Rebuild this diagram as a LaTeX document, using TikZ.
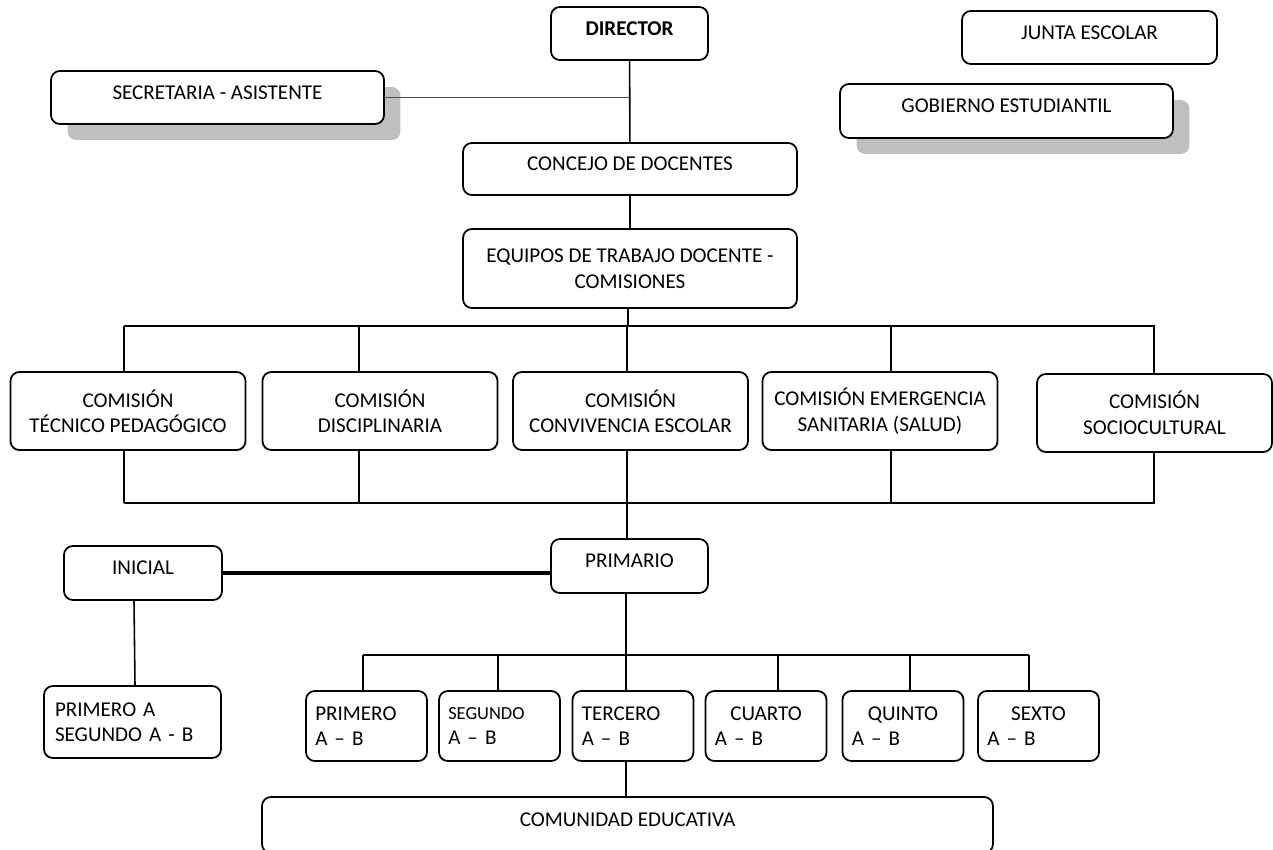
\documentclass[tikz,border=0pt]{standalone}
\usepackage{fontspec}
\setmainfont{Carlito}
\usetikzlibrary{shadows}

\begin{document}
\begin{tikzpicture}[x=0.02cm,y=-0.02cm,font=\fontsize{12}{14.5}\selectfont,
    box/.style={draw,line width=1pt,rounded corners=5pt,fill=white,inner sep=2pt},
    topline/.style={text height=9pt,text depth=7pt},
    comis/.style={box,align=center,minimum width=4.7cm,minimum height=1.56cm},
    grade/.style={box,align=left,text width=2.05cm,inner xsep=5pt,minimum width=2.42cm,minimum height=1.4cm},
    grayshadow/.style={drop shadow={shadow xshift=0.33cm,shadow yshift=-0.32cm,fill=black!25,opacity=1}},
    link/.style={line width=0.9pt}]
    \useasboundingbox (0,0) rectangle (1273,849);
    \clip (0,0) rectangle (1273,849);
    \node[box,topline,minimum width=3.14cm,minimum height=1.06cm] (dir) at (629.5,33.5) {\bfseries DIRECTOR};
    \node[box,topline,minimum width=6.66cm,minimum height=1.06cm,grayshadow] (sec) at (217.5,97.5) {SECRETARIA - ASISTENTE};
    \node[box,topline,minimum width=5.1cm,minimum height=1.06cm] (junta) at (1089.5,37.5) {JUNTA ESCOLAR};
    \node[box,topline,minimum width=6.66cm,minimum height=1.08cm,grayshadow] (gob) at (1006.5,111) {GOBIERNO ESTUDIANTIL};
    \node[box,topline,minimum width=6.68cm,minimum height=1.04cm] (conc) at (630,169) {CONCEJO DE DOCENTES};
    \node[box,align=center,minimum width=6.68cm,minimum height=1.58cm] (equip) at (630,268.5) {EQUIPOS DE TRABAJO DOCENTE -\\COMISIONES};
    \node[comis] (com1) at (128,411) {COMISIÓN\\TÉCNICO PEDAGÓGICO};
    \node[comis] (com2) at (380,411) {COMISIÓN\\DISCIPLINARIA};
    \node[comis] (com3) at (630.5,411) {COMISIÓN\\CONVIVENCIA ESCOLAR};
    \node[comis] (com4) at (880,411) {COMISIÓN EMERGENCIA\\SANITARIA (SALUD)};
    \node[comis] (com5) at (1154.5,413) {COMISIÓN\\SOCIOCULTURAL};
    \node[box,topline,minimum width=3.14cm,minimum height=1.08cm] (prim) at (629.5,566) {PRIMARIO};
    \node[box,topline,minimum width=3.16cm,minimum height=1.08cm] (ini) at (143,573) {INICIAL};
    \node[box,align=left,text width=3.1cm,inner xsep=5pt,minimum width=3.54cm,minimum height=1.44cm] (inig) at (132.5,722) {PRIMERO A\\SEGUNDO A - B};
    \node[grade] (g1) at (366.5,726) {PRIMERO\\A -- B};
    \node[grade] (g2) at (499.5,726) {{\fontsize{10.5}{12}\selectfont SEGUNDO}\\A -- B};
    \node[grade] (g3) at (633,726) {TERCERO\\A -- B};
    \node[grade] (g4) at (766,726) {\makebox[\linewidth]{CUARTO}\\A -- B};
    \node[grade] (g5) at (903,726) {\makebox[\linewidth]{QUINTO}\\A -- B};
    \node[grade] (g6) at (1038.5,726) {\makebox[\linewidth]{SEXTO}\\A -- B};
    \node[box,topline,minimum width=14.62cm,minimum height=1.12cm] (comu) at (627.5,825) {COMUNIDAD EDUCATIVA};
    \coordinate (topbus) at (124,326);
    \coordinate (lowbus) at (124,503);
    \coordinate (gradebus) at (363,655);
    \draw[link] (dir) edge (conc) (conc) edge (equip);
    \draw[line width=0.6pt,black!70] (sec.east) -- (sec.east -| dir.south);
    \draw[link] (equip.south -| 628,0) -- (628,0 |- topbus);
    \draw[link] (topbus) -- (topbus -| com5);
    \draw[link] (lowbus) -- (lowbus -| com5);
    \foreach \n/\x in {com1/124,com2/359,com3/627,com4/891,com5/1154}{
      \draw[link] (\x,0 |- topbus) -- (\x,0 |- \n.north);
      \draw[link] (\x,0 |- \n.south) -- (\x,0 |- lowbus);
    }
    \draw[link] (627,0 |- lowbus) -- (627,0 |- prim.north);
    \draw[line width=2.8pt] (ini.east) -- (prim.west |- ini.east);
    \draw[link] (ini.south -| 134,0) -- (inig.north -| 135,0);
    \draw[link] (prim.south -| 626,0) -- (626,0 |- gradebus);
    \draw[link] (gradebus) -- (gradebus -| 1029,0);
    \foreach \n/\x in {g1/363,g2/498,g4/778,g5/910,g6/1029}
      \draw[link] (\x,0 |- gradebus) -- (\x,0 |- \n.north);
    \draw[line width=1.6pt] (626,0 |- gradebus) -- (626,0 |- g3.north);
    \draw[link] (g3.south -| 626,0) -- (626,0 |- comu.north);
\end{tikzpicture}
\end{document}
